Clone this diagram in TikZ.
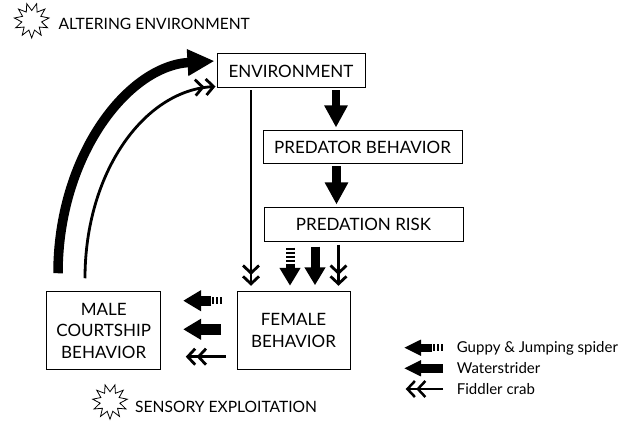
\documentclass[tikz,border=0pt]{standalone}
\usepackage{fontspec}
\setmainfont{Lato}
\usetikzlibrary{arrows.meta,calc}
\newcommand{\boxfont}{\fontsize{17}{21.5}\selectfont}
\newcommand{\capfont}{\fontsize{15.6}{19}\selectfont}
\newcommand{\legfont}{\fontsize{15}{18}\selectfont}
\begin{document}
\begin{tikzpicture}[x=1pt,y=-1pt,
  box/.style={draw, line width=1pt, inner sep=0pt, align=center, font=\boxfont},
  fatarrow/.style={line width=8.5pt, -{Triangle[length=22pt,width=22pt]}},
  midarrow/.style={line width=10pt, -{Triangle[length=18pt,width=20pt]}},
  legarrow/.style={line width=8pt, -{Triangle[length=17pt,width=15pt]}},
  stripes/.style={line width=#1, dash pattern=on 2pt off 2pt},
  dblarrow/.style={line width=2.8pt, -{Straight Barb[length=7.5pt,width=16pt]Straight Barb[length=7.5pt,width=16pt]}},
  leg/.style={anchor=base west, inner sep=0pt, font=\legfont},
  capt/.style={anchor=west, inner sep=0pt, font=\capfont},
  burst/.pic={\draw[line width=0.8pt, fill=white] (90:17.5) \foreach \i in {1,...,21}{ -- ({90+\i*360/22}:{mod(\i,2)==0 ? 17.5 : 10}) } -- cycle;}
]
\useasboundingbox (0,0) rectangle (627,425);

% boxes
\node[box, minimum width=148pt, minimum height=34pt] (env) at (291,71) {ENVIRONMENT};
\node[box, minimum width=199pt, minimum height=33pt] (pred) at (362.5,147.5) {PREDATOR BEHAVIOR};
\node[box, minimum width=199pt, minimum height=33pt] (risk) at (363.5,224.5) {PREDATION RISK};
\node[box, minimum width=113pt, minimum height=77.5pt] (female) at (293.5,330.5) {FEMALE\\BEHAVIOR};
\node[box, minimum width=113.5pt, minimum height=77.5pt] (male) at (103.7,330.5) {MALE\\COURTSHIP\\BEHAVIOR};

% captions
\pic at (31.7,20.5) {burst};
\node[capt] (alt) at (58.3,24.2) {ALTERING ENVIRONMENT};
\pic at (110,401.7) {burst};
\node[capt] (sens) at (135,406.7) {SENSORY EXPLOITATION};

% environment -> predator -> risk
\draw[fatarrow, shorten <=2pt, shorten >=3pt] ($(env.south)+(45,0)$) -- ($(pred.north)+(-26.5,0)$);
\draw[fatarrow, shorten <=2pt, shorten >=3pt] ($(pred.south)+(-26,0)$) -- ($(risk.north)+(-27,0)$);

% environment -> female (fiddler crab)
\draw[dblarrow, shorten <=2pt, shorten >=5.5pt] ($(env.south)+(-40,0)$) -- ($(female.north)+(-42.5,0)$);

% risk -> female, three arrows
\draw[stripes=9pt] ($(risk.south)+(-73.5,6)$) -- ($(risk.south)+(-73.5,25)$);
\draw[midarrow, line width=9pt] ($(risk.south)+(-73.5,24)$) -- ($(female.north)+(-3.5,-5.5)$);
\draw[midarrow, line width=9pt, shorten <=5pt, shorten >=6pt] ($(risk.south)+(-48.5,0)$) -- ($(female.north)+(21.5,0)$);
\draw[dblarrow, shorten <=3pt, shorten >=5.5pt] ($(risk.south)+(-25,0)$) -- ($(female.north)+(45,0)$);

% female -> male, three arrows
\draw[stripes=7.5pt] ($(female.west)+(-14.3,-29.8)$) -- ($(female.west)+(-26,-29.8)$);
\draw[midarrow, line width=10pt] ($(female.west)+(-25.5,-29.8)$) -- ($(male.east)+(22.2,-29.8)$);
\draw[midarrow, line width=11pt, shorten <=15.3pt, shorten >=22.2pt] ($(female.west)+(0,-1.2)$) -- ($(male.east)+(0,-1.2)$);
\draw[dblarrow, shorten <=11pt, shorten >=24.8pt] ($(female.west)+(0,26.2)$) -- ($(male.east)+(0,26.2)$);

% male -> environment curves
\draw[line width=9.5pt, -{Triangle[length=27pt,width=25pt]}] ($(male.north)+(-45.7,-18)$) .. controls +(0,-117) and +(-87,5) .. ($(env.west)+(-2,-10)$);
\draw[dblarrow] ($(male.north)+(-18.7,-13)$) .. controls +(0,-105) and +(-72,4) .. ($(env.west)+(-1,15.5)$);

% legend
\node[leg] (l1) at (456.7,352.7) {Guppy \& Jumping spider};
\node[leg] (l2) at (456.7,373.3) {Waterstrider};
\node[leg] (l3) at (456.7,394) {Fiddler crab};
\draw[stripes=7pt] ($(l1.base west)+(-13.5,-5)$) -- ($(l1.base west)+(-25,-5)$);
\draw[legarrow] ($(l1.base west)+(-24.5,-5)$) -- ($(l1.base west)+(-52.7,-5)$);
\draw[legarrow, line width=9pt] ($(l2.base west)+(-13.5,-5)$) -- ($(l2.base west)+(-52.7,-5)$);
\draw[dblarrow, line width=2.5pt] ($(l3.base west)+(-13.5,-5)$) -- ($(l3.base west)+(-51,-5)$);
\end{tikzpicture}
\end{document}
